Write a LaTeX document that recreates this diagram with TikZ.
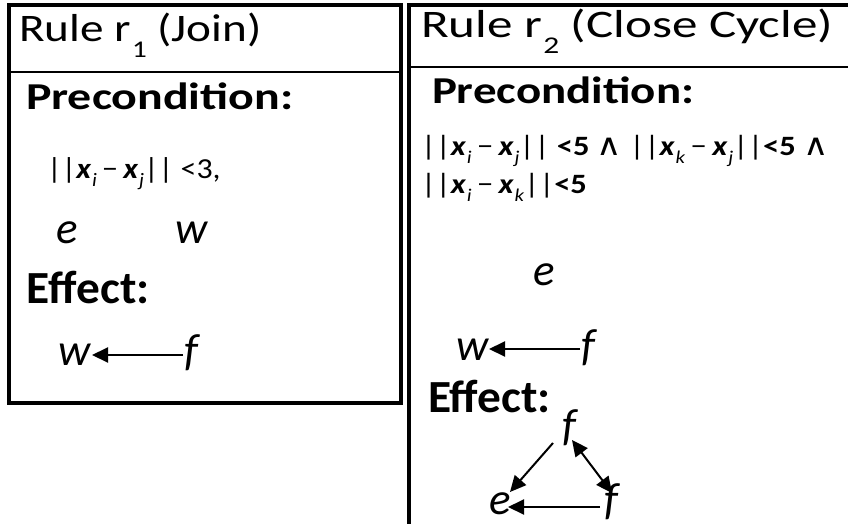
\documentclass[tikz,border=0pt]{standalone}
\usepackage{fontspec}
\usepackage{graphicx}
\setmainfont{Carlito}
\newfontfamily\djv{DejaVu Sans}
\usetikzlibrary{arrows.meta}
\newcommand\fsz[1]{\fontsize{#1}{#1}\selectfont}
\newcommand\vx[3]{\textbf{\textit{x}}\kern0.02em\raisebox{-#3pt}{\fsz{#2}\textit{#1}}}
\newcommand\sub[1]{\kern1pt\raisebox{-16pt}{\fsz{24}#1}}
\newcommand\sx[2]{\scalebox{#1}[1]{#2}}
\newcommand\wedgeop{{\djv\fsz{30}∧}}
\tikzset{
  txt/.style={anchor=base west, inner sep=0pt, outer sep=0pt},
  ttl/.style={txt, font=\fsz{39}},
  hdr/.style={txt, font=\fsz{38}\bfseries},
  eff/.style={txt, font=\fsz{46}\bfseries},
  var/.style={txt, font=\fsz{45}\itshape},
  arr/.style={line width=2pt, -{Triangle[length=16pt,width=15pt]}},
  darr/.style={line width=2pt, {Triangle[length=16pt,width=15pt]}-{Triangle[length=16pt,width=15pt]}},
  boxline/.style={line width=3.5pt},
  divline/.style={line width=2pt}
}
\begin{document}
\begin{tikzpicture}[x=1pt,y=-1pt]
\clip (0,0) rectangle (848,524);
\fill[white] (0,0) rectangle (848,524);
% boxes
\draw[boxline] (9,5) rectangle (401,403);
\draw[divline] (9,72) -- (401,72);
\draw[boxline] (409,5) rectangle (880,560);
\draw[divline] (409,67) -- (880,67);
% left box
\node[ttl] (t1) at (19,42) {\sx{1.21}{Rule r\sub{1} (Join)}};
\node[hdr] (p1) at (26,110) {\sx{1.26}{Precondition:}};
\node[txt, font=\fsz{29}] (c1) at (47,178) {\sx{1.1}{||\vx{i}{19}{8}\,−\,\vx{j}{19}{8}|| <3,}};
\node[var] (e1) at (56,243) {e};
\node[var] (w1) at (175,243) {w};
\node[eff] (ef1) at (27,303) {\sx{1.03}{Effect:}};
\node[var] (w2) at (58,365) {w};
\node[var] (f2) at (184,365) {f};
\draw[arr] ([xshift=-1pt,yshift=10pt]f2.base west) -- ([xshift=34pt,yshift=10pt]w2.base west);
% right box
\node[ttl] (t2) at (421,38) {\sx{1.31}{Rule r\sub{2} (Close Cycle)}};
\node[hdr] (p2) at (432,103) {\sx{1.235}{Precondition:}};
\node[txt, font=\fsz{28}] (c2) at (421,155) {\sx{1.16}{||\vx{i}{18}{8}\,−\,\vx{j}{18}{8}|| \textbf{<5} \wedgeop{} ||\vx{k}{18}{8}\,−\,\vx{j}{18}{8}||\textbf{<5} \wedgeop}};
\node[txt, font=\fsz{28}] (c3) at (421,193) {\sx{1.16}{||\vx{i}{18}{8}\,−\,\vx{k}{18}{8}||\textbf{<5}}};
\node[var] (e3) at (533,285) {e};
\node[var] (w3) at (456,360) {w};
\node[var] (f3) at (581,360) {f};
\draw[arr] ([xshift=-1pt,yshift=11pt]f3.base west) -- ([xshift=33pt,yshift=11pt]w3.base west);
\node[eff] (ef2) at (428,412) {\sx{1.03}{Effect:}};
\node[var] (ft) at (562,440) {f};
\node[var] (eb) at (489,514) {e};
\node[var] (fb) at (604,514) {f};
\draw[arr] ([xshift=-9pt,yshift=-3pt]ft.base west) -- ([xshift=21pt,yshift=22pt]eb.base west);
\draw[darr] ([xshift=10pt]ft.base west) -- ([xshift=8pt,yshift=21pt]fb.base west);
\draw[arr] ([xshift=-4pt,yshift=7pt]fb.base west) -- ([xshift=19pt,yshift=7pt]eb.base west);
\end{tikzpicture}
\end{document}
